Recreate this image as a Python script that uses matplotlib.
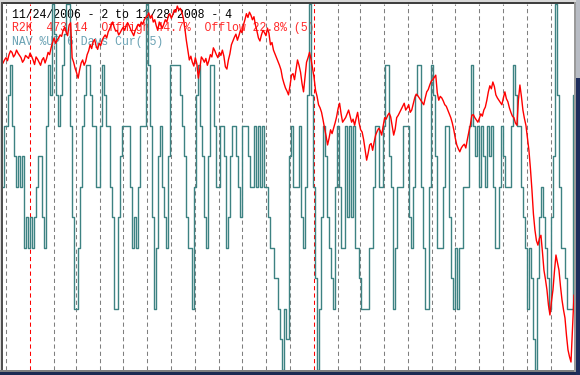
import matplotlib
matplotlib.use("Agg")
import matplotlib.pyplot as plt
import numpy as np
import pandas as pd
from matplotlib.patches import Rectangle

# ---------------- data ----------------
title_line = "11/24/2006 - 2 to 11/28/2008 - 4"
r2k_line = "R2K  473.14  OffHigh 44.7%  Offlow 22.8% (5)"
nav_line = "NAV %UP 6 Days Cur( 5)"

start_date = "2006-11-24"
end_date = "2008-11-28"

# Russell 2000 closes (roughly every other session)
r2k = [779, 783, 786, 782, 790, 795, 793, 787, 790, 796, 792, 789, 786, 780, 783, 789,
       787, 785, 792, 788, 783, 777, 787, 784, 780, 776, 783, 786, 779, 785, 793, 790,
       799, 806, 812, 805, 809, 812, 816, 814, 822, 826, 820, 815, 829, 832, 786, 780,
       772, 766, 759, 770, 779, 783, 776, 781, 790, 795, 803, 798, 807, 810, 801, 797,
       805, 802, 809, 813, 816, 812, 820, 824, 829, 833, 826, 821, 822, 816, 819, 823,
       826, 822, 829, 832, 828, 823, 819, 815, 822, 826, 830, 827, 833, 830, 836, 839,
       841, 845, 838, 842, 833, 836, 828, 822, 833, 829, 825, 830, 836, 833, 841, 844,
       838, 843, 849, 846, 854, 849, 851, 846, 838, 825, 809, 796, 783, 788, 780, 775,
       786, 778, 759, 772, 787, 784, 780, 785, 776, 782, 790, 787, 799, 795, 790, 786,
       793, 789, 796, 788, 774, 771, 783, 791, 803, 808, 813, 817, 809, 815, 822, 819,
       829, 836, 844, 839, 846, 842, 836, 840, 829, 821, 812, 808, 816, 822, 819, 815,
       825, 818, 803, 806, 796, 791, 786, 781, 776, 770, 759, 752, 746, 742, 737, 749,
       763, 765, 757, 770, 783, 776, 767, 752, 741, 760, 780, 786, 793, 784, 772, 760,
       743, 735, 724, 720, 714, 704, 693, 683, 671, 680, 691, 686, 693, 700, 708, 719,
       726, 712, 701, 704, 707, 712, 717, 709, 701, 705, 697, 706, 714, 700, 691, 688,
       678, 664, 651, 660, 671, 673, 664, 675, 684, 689, 693, 690, 684, 696, 707, 705,
       710, 713, 708, 696, 684, 692, 707, 710, 714, 718, 722, 726, 717, 720, 724, 714,
       717, 725, 733, 738, 736, 733, 730, 727, 724, 733, 741, 744, 750, 755, 757, 760,
       763, 740, 730, 735, 733, 729, 724, 722, 717, 712, 707, 700, 691, 680, 671, 666,
       662, 667, 670, 672, 667, 678, 688, 697, 710, 711, 707, 704, 701, 706, 712, 709,
       717, 721, 730, 741, 749, 745, 754, 748, 737, 733, 730, 727, 724, 733, 741, 732,
       728, 720, 714, 709, 707, 700, 697, 730, 750, 735, 717, 706, 697, 681, 664, 640,
       612, 580, 559, 545, 539, 548, 552, 530, 506, 494, 480, 460, 447, 465, 480, 505,
       526, 516, 506, 485, 467, 454, 443, 420, 401, 392, 385, 430, 473]

# NAV %UP (6 days) in twelfths
nav_up = [6, 8, 8, 9, 10, 8, 7, 6, 7, 6, 7, 4, 5, 4, 5, 4, 5, 6, 7, 7,
          5, 4, 8, 10, 9, 12, 11, 9, 8, 9, 10, 11, 12, 12, 8, 5, 2, 2, 4, 6,
          8, 9, 10, 10, 9, 8, 8, 6, 6, 8, 10, 9, 8, 8, 6, 5, 2, 2, 5, 7,
          8, 8, 8, 8, 6, 4, 5, 4, 6, 8, 8, 8, 12, 10, 8, 5, 2, 4, 7, 8,
          6, 5, 4, 7, 10, 10, 10, 10, 10, 9, 8, 7, 5, 4, 4, 2, 6, 9, 10, 8,
          7, 5, 4, 7, 10, 10, 8, 6, 6, 8, 8, 7, 4, 5, 7, 8, 8, 7, 6, 5,
          8, 8, 8, 7, 6, 6, 8, 6, 8, 6, 8, 6, 6, 5, 4, 4, 3, 3, 2, 1,
          0, 2, 1, 7, 8, 6, 6, 6, 8, 5, 4, 6, 9, 12, 9, 6, 3, 0, 2, 5,
          8, 7, 5, 4, 3, 2, 6, 8, 6, 4, 4, 8, 5, 8, 5, 8, 4, 4, 3, 2,
          2, 2, 2, 4, 4, 6, 8, 8, 6, 6, 8, 10, 10, 7, 6, 2, 4, 6, 6, 6,
          8, 8, 8, 5, 4, 6, 9, 10, 10, 6, 4, 2, 2, 6, 10, 9, 7, 4, 4, 4,
          6, 8, 8, 5, 3, 2, 4, 2, 4, 4, 6, 6, 6, 8, 10, 8, 7, 8, 6, 8,
          7, 6, 8, 7, 8, 6, 4, 4, 6, 8, 7, 6, 6, 6, 8, 10, 9, 8, 8, 6,
          5, 4, 2, 4, 3, 1, 0, 3, 5, 6, 5, 4, 3, 2, 5, 7, 12, 9, 6, 4,
          4, 3, 2, 2, 2, 9]

# ---------------- styles ----------------
TEAL = "#3d8282"
RED = "#ff0000"
GRID = "#7f7f7f"
NAV_TXT = "#6aa2b4"

W, H = 580, 375
fig = plt.figure(figsize=(W / 100, H / 100), dpi=100)
fig.patch.set_facecolor("white")

# plot area in pixels: x 3..574, y 3.5..370 (from top)
ax = fig.add_axes([3 / W, (H - 370) / H, 571 / W, 366.5 / H])
ax.set_facecolor("white")
x_left = pd.Timestamp(start_date) + pd.Timedelta(days=3)
x_right = pd.Timestamp(end_date) + pd.Timedelta(days=3)
ax.set_xlim(x_left, x_right)
ax.set_ylim(0, 12)
ax.axis("off")

# month separators
months = pd.date_range("2006-12-01", "2008-11-01", freq="MS")
for m in months:
    col = RED if m.month == 1 else GRID
    ax.axvline(m, color=col, lw=0.75, linestyle=(0, (4, 3)), zorder=1)

nav_dates = pd.date_range(x_left, x_right, periods=len(nav_up))
ax.step(nav_dates, nav_up, where="mid", color=TEAL, lw=1.0, zorder=3)

fs = 8.3
ax.text(9 / 571, 1 - 14 / 366.5, title_line, transform=ax.transAxes,
        family="Liberation Mono", fontsize=fs, color="black", va="baseline", zorder=2)
ax.text(9 / 571, 1 - 27.7 / 366.5, r2k_line, transform=ax.transAxes,
        family="Liberation Mono", fontsize=fs, color="#ff2a2a", va="baseline", zorder=2)
ax.text(9 / 571, 1 - 41.7 / 366.5, nav_line, transform=ax.transAxes,
        family="Liberation Mono", fontsize=fs, color=NAV_TXT, va="baseline", zorder=2)

ax2 = ax.twinx()
ax2.set_ylim(374.5, 857.4)
ax2.set_xlim(x_left, x_right)
ax2.axis("off")
r2k_dates = pd.date_range(x_left, x_right, periods=len(r2k))
ax2.plot(r2k_dates, r2k, color=RED, lw=1.0, zorder=4)

# window frame decoration
def frect(x0, y0, w, h, c):
    fig.patches.append(Rectangle((x0 / W, 1 - (y0 + h) / H), w / W, h / H,
                                 transform=fig.transFigure, color=c, zorder=10, lw=0))

frect(0, 0, 580, 2, "#d8d8d8")
frect(0, 2, 576, 1.5, "#404040")
frect(0, 0, 1, 372, "#d8d8d8")
frect(1, 2, 2, 370, "#505050")
frect(0, 370, 576, 2, "#808080")
frect(0, 372, 580, 3, "#1c2a52")
frect(574, 2, 2, 370, "#9a9a9a")
frect(576, 0, 4, 78, "#b8bcc4")
frect(576, 78, 4, 297, "#1e2d5c")

fig.savefig("out.png", dpi=100)
